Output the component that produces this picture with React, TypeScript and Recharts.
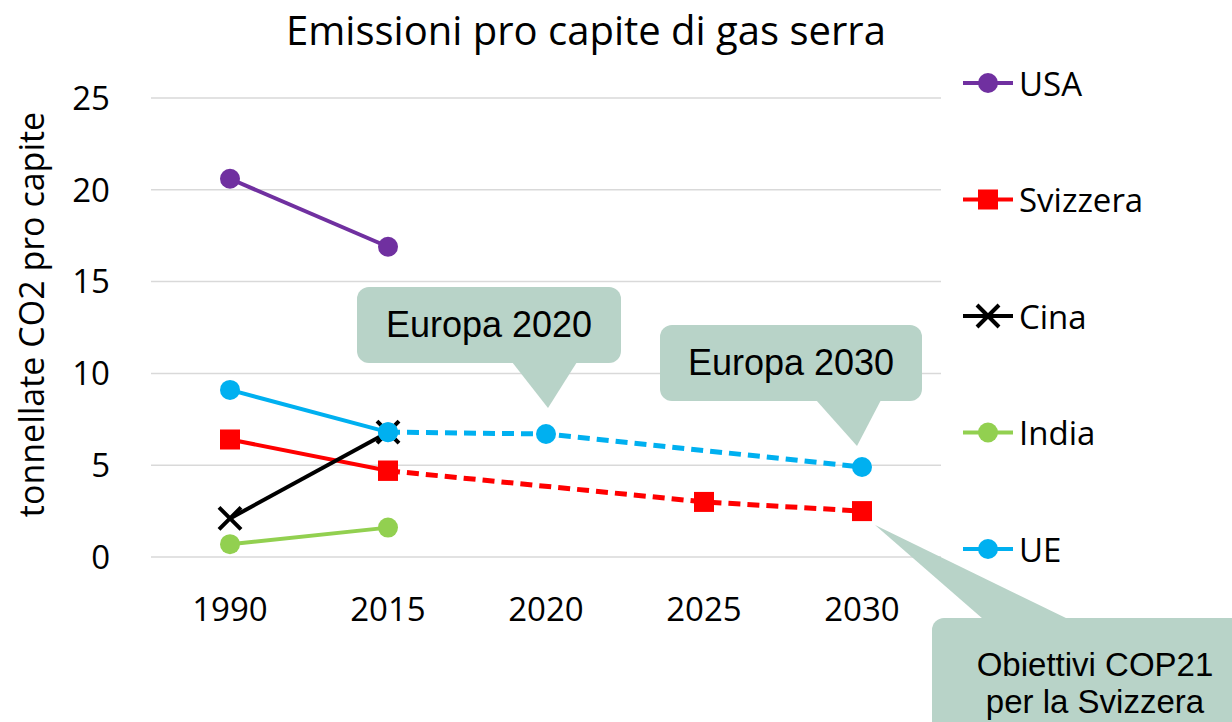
import { LineChart, Line, XAxis, YAxis, CartesianGrid, Legend, ReferenceDot } from "recharts";

const years = ["1990", "2015", "2020", "2025", "2030"];
const usa = [20.6, 16.9, null, null, null];
const svizzera = [6.4, 4.7, null, null, null];
const svizzeraObiettivo = [null, 4.7, null, 3.0, 2.5];
const cina = [2.1, 6.8, null, null, null];
const india = [0.7, 1.6, null, null, null];
const ue = [9.1, 6.8, null, null, null];
const ueObiettivo = [null, 6.8, 6.7, null, 4.9];
const yTicks = [0, 5, 10, 15, 20, 25];

const data = years.map((year, i) => ({
  year,
  usa: usa[i],
  svizzera: svizzera[i],
  svizzeraObiettivo: svizzeraObiettivo[i],
  cina: cina[i],
  india: india[i],
  ue: ue[i],
  ueObiettivo: ueObiettivo[i],
}));

const SERIES = [
  { name: "USA", color: "#7030a0", marker: "circle" },
  { name: "Svizzera", color: "#ff0000", marker: "square" },
  { name: "Cina", color: "#000000", marker: "cross" },
  { name: "India", color: "#92d050", marker: "circle" },
  { name: "UE", color: "#00b0f0", marker: "circle" },
];

const FONT = "'Open Sans', sans-serif";
const BOX_FONT = "'Liberation Sans', Arial, sans-serif";
const CALLOUT = "#b8d3c8";

function Marker({ kind, cx, cy, color }: any) {
  if (kind === "square") {
    return <rect x={cx - 10} y={cy - 10} width={20} height={20} fill={color} />;
  }
  if (kind === "cross") {
    return (
      <path
        d={`M${cx - 11},${cy - 11}L${cx + 11},${cy + 11}M${cx - 11},${cy + 11}L${cx + 11},${cy - 11}`}
        stroke={color}
        strokeWidth={4}
        fill="none"
      />
    );
  }
  return <circle cx={cx} cy={cy} r={10} fill={color} />;
}

const makeDot = (kind: string, color: string) => (props: any) => {
  const { cx, cy, value, index } = props;
  if (value == null || cx == null || cy == null) return <g key={`e-${index}`} />;
  return (
    <g key={`d-${index}`}>
      <Marker kind={kind} cx={cx} cy={cy} color={color} />
    </g>
  );
};

// fumetto: box e punta relativi al punto dati
function Callout({ cx, cy, box, base, tip, lines, textY, lineGap, fontSize }: any) {
  const bx = cx + box.x;
  const by = cy + box.y;
  const textX = bx + box.w / 2;
  return (
    <g>
      <rect x={bx} y={by} width={box.w} height={box.h} rx={12} fill={CALLOUT} />
      <polygon
        points={`${cx + base.x1},${cy + base.y} ${cx + base.x2},${cy + base.y} ${cx + tip.x},${cy + tip.y}`}
        fill={CALLOUT}
      />
      {lines.map((t: string, i: number) => (
        <text
          key={t}
          x={textX}
          y={cy + textY + i * lineGap}
          textAnchor="middle"
          fontFamily={BOX_FONT}
          fontSize={fontSize}
          fill="#000"
        >
          {t}
        </text>
      ))}
    </g>
  );
}

function YLabel({ viewBox }: any) {
  const x = viewBox.x - 60;
  const y = viewBox.y + viewBox.height / 2 - 13;
  return (
    <text
      x={x}
      y={y}
      transform={`rotate(-90, ${x}, ${y})`}
      textAnchor="middle"
      dominantBaseline="central"
      fontFamily={FONT}
      fontSize={34}
      fill="#000"
    >
      tonnellate CO2 pro capite
    </text>
  );
}

const renderLegend = () => (
  <svg width={277} height={540}>
    {SERIES.map((s, i) => {
      const y = 23 + i * 116.5;
      return (
        <g key={s.name}>
          <line x1={8} x2={58} y1={y} y2={y} stroke={s.color} strokeWidth={4} />
          <Marker kind={s.marker} cx={33} cy={y} color={s.color} />
          <text x={64} y={y} dominantBaseline="central" fontFamily={FONT} fontSize={33} fill="#000">
            {s.name}
          </text>
        </g>
      );
    })}
  </svg>
);

export default function App() {
  const tickStyle = { fontFamily: FONT, fontSize: 33, fill: "#000" };
  return (
    <div style={{ position: "absolute", left: 0, top: 0, width: 1232, height: 722, background: "#fff" }}>
      <svg width={1232} height={70} style={{ position: "absolute", left: 0, top: 0 }}>
        <text x={586} y={45} textAnchor="middle" fontFamily={FONT} fontSize={40} fill="#000">
          Emissioni pro capite di gas serra
        </text>
      </svg>
      <LineChart width={1232} height={722} data={data} margin={{ top: 98, right: 291, bottom: 105, left: 91 }}>
        <CartesianGrid vertical={false} stroke="#d9d9d9" strokeWidth={1.5} />
        <XAxis
          dataKey="year"
          height={60}
          padding={{ left: 79, right: 79 }}
          axisLine={false}
          tickLine={false}
          tickMargin={35}
          tick={tickStyle}
        />
        <YAxis
          width={60}
          domain={[0, 25]}
          ticks={yTicks}
          axisLine={false}
          tickLine={false}
          tickMargin={35}
          tick={tickStyle}
          label={<YLabel />}
        />
        <Legend
          layout="horizontal"
          verticalAlign="middle"
          align="center"
          content={renderLegend}
          wrapperStyle={{ left: 955, top: 60, width: 277 }}
        />
        <Line dataKey="usa" name="USA" stroke="#7030a0" strokeWidth={4} dot={makeDot("circle", "#7030a0")} isAnimationActive={false} />
        <Line dataKey="svizzera" name="Svizzera" stroke="#ff0000" strokeWidth={4} dot={makeDot("square", "#ff0000")} isAnimationActive={false} />
        <Line
          dataKey="svizzeraObiettivo"
          legendType="none"
          stroke="#ff0000"
          strokeWidth={5}
          strokeDasharray="12 7"
          connectNulls
          dot={makeDot("square", "#ff0000")}
          isAnimationActive={false}
        />
        <Line dataKey="cina" name="Cina" stroke="#000000" strokeWidth={4} dot={makeDot("cross", "#000000")} isAnimationActive={false} />
        <Line dataKey="india" name="India" stroke="#92d050" strokeWidth={4} dot={makeDot("circle", "#92d050")} isAnimationActive={false} />
        <Line dataKey="ue" name="UE" stroke="#00b0f0" strokeWidth={4} dot={makeDot("circle", "#00b0f0")} isAnimationActive={false} />
        <Line
          dataKey="ueObiettivo"
          legendType="none"
          stroke="#00b0f0"
          strokeWidth={5}
          strokeDasharray="12 7"
          connectNulls
          dot={makeDot("circle", "#00b0f0")}
          isAnimationActive={false}
        />
        <ReferenceDot
          x="2020"
          y={6.7}
          ifOverflow="visible"
          shape={(p: any) => (
            <Callout
              cx={p.cx}
              cy={p.cy}
              box={{ x: -189, y: -147, w: 264, h: 76 }}
              base={{ x1: -34, x2: 31, y: -72 }}
              tip={{ x: 2, y: -26 }}
              lines={["Europa 2020"]}
              textY={-97}
              lineGap={0}
              fontSize={36}
            />
          )}
        />
        <ReferenceDot
          x="2030"
          y={4.9}
          ifOverflow="visible"
          shape={(p: any) => (
            <Callout
              cx={p.cx}
              cy={p.cy}
              box={{ x: -202, y: -142, w: 262, h: 76 }}
              base={{ x1: -46, x2: 19, y: -67 }}
              tip={{ x: -5, y: -21 }}
              lines={["Europa 2030"]}
              textY={-92}
              lineGap={0}
              fontSize={36}
            />
          )}
        />
        <ReferenceDot
          x="2030"
          y={2.5}
          ifOverflow="visible"
          shape={(p: any) => (
            <Callout
              cx={p.cx}
              cy={p.cy}
              box={{ x: 70, y: 107, w: 326, h: 140 }}
              base={{ x1: 121, x2: 206, y: 108 }}
              tip={{ x: 13, y: 14 }}
              lines={["Obiettivi COP21", "per la Svizzera"]}
              textY={165}
              lineGap={37}
              fontSize={33}
            />
          )}
        />
      </LineChart>
    </div>
  );
}
